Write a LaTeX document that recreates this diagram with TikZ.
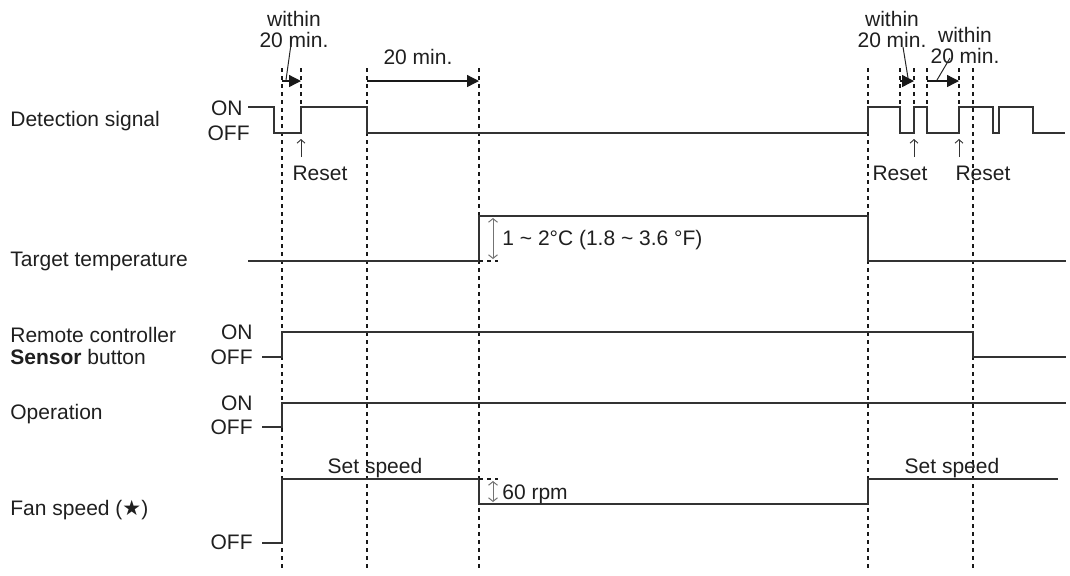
\documentclass[tikz,border=0pt]{standalone}
\usepackage{fontspec}
\setmainfont{Liberation Sans}
\newfontfamily\symbolfont{DejaVu Sans}
\usepackage{tikz}
\usetikzlibrary{arrows.meta, positioning}

\begin{document}
\begin{tikzpicture}[x=0.5pt, y=-0.5pt,
  sig/.style={draw=black!80, line width=0.7pt},
  guide/.style={draw=black!90, line width=1.1pt, dash pattern=on 2pt off 2pt},
  tick/.style={draw=black!90, line width=0.8pt, dash pattern=on 2pt off 2pt},
  span/.style={draw=black!90, line width=0.65pt, -{Triangle[length=6pt,width=6pt]}},
  leader/.style={draw=black!85, line width=0.5pt},
  gauge/.style={draw=black!55, line width=0.5pt, {Straight Barb[length=1.8pt,width=4.5pt]}-{Straight Barb[length=1.8pt,width=4.5pt]}},
  up/.style={draw=black!80, line width=0.45pt, -{Straight Barb[length=1.8pt,width=4pt]}},
  lbl/.style={font=\fontsize{10.5}{10.5}\selectfont, inner sep=0pt, text=black!88, align=center}]
\useasboundingbox (0,0) rectangle (1070,575);

% Guide lines
\foreach \x in {282,367,479,868,973}
  \draw[guide] (\x,68) -- (\x,570);
\foreach \x in {301,900,914,927,959}
  \draw[guide] (\x,68) -- (\x,107);

% Row names
\node[lbl, anchor=base west] (detname) at (10,126.5) {Detection signal};
\node[lbl, anchor=base west] (tgtname) at (10,266) {Target temperature};
\node[lbl, anchor=south west, align=left] (rcname) at (10,365) {Remote controller\\[0.5pt]\textbf{Sensor} button};
\node[lbl, anchor=base west] (opname) at (10,419) {Operation};
\node[lbl, anchor=base west] (fanname) at (10,515) {Fan speed ({\symbolfont ★})};

% ON / OFF levels
\node[lbl, anchor=base east] (deton) at (243,115) {ON};
\node[lbl, anchor=base east] (detoff) at (250,140) {OFF};
\node[lbl, anchor=base east] (rcon) at (253,339) {ON};
\node[lbl, anchor=base east] (rcoff) at (253,364) {OFF};
\node[lbl, anchor=base east] (opon) at (253,410) {ON};
\node[lbl, anchor=base east] (opoff) at (253,434) {OFF};
\node[lbl, anchor=base east] (fanoff) at (253,549) {OFF};

% Detection signal
\draw[sig] (248,107) -| (274,133) -| (301,107) -| (367,133) -| (868,107)
  -| (900,133) -| (914,107) -| (927,133) -| (959,107) -| (993,133)
  -| (999,107) -| (1033,133) -- (1065,133);

% Timing spans
\node[lbl, anchor=south] (within1) at (294,48) {within\\20 min.};
\node[lbl, anchor=base] (wait) at (418,64) {20 min.};
\node[lbl, anchor=south] (within2) at (892,48) {within\\20 min.};
\node[lbl, anchor=south] (within3) at (965,64) {within\\20 min.};
\draw[span] (282,81) -- (301,81);
\draw[span] (367,81) -- (479,81);
\draw[span] (900,81) -- (914,81);
\draw[span] (927,81) -- (959,81);
\draw[leader] (292,37) -- (286,80);
\draw[leader] (903,47) -- (908,78);
\draw[leader] (950,58) -- (937,80);

% Resets
\node[lbl, anchor=base] (reset1) at (320,180) {Reset};
\node[lbl, anchor=base] (reset2) at (900,180) {Reset};
\node[lbl, anchor=base] (reset3) at (983,180) {Reset};
\draw[up] (301,157) -- (301,139);
\draw[up] (914,157) -- (914,139);
\draw[up] (959,157) -- (959,139);

% Target temperature
\draw[sig] (248,261) -| (479,216) -| (868,261) -- (1066,261);
\draw[tick] (479,261) -- (498,261);
\draw[gauge] (493,218) -- (493,259);
\node[lbl, anchor=base west] (tempstep) at (502,245) {1 \textasciitilde{} 2°C (1.8 \textasciitilde{} 3.6 °F)};

% Remote controller Sensor button
\draw[sig] (262,357) -| (282,332) -| (973,357) -- (1066,357);

% Operation
\draw[sig] (262,427) -| (282,403) -- (1066,403);

% Fan speed
\draw[sig] (262,543) -| (282,479) -| (479,504) -| (868,479) -- (1058,479);
\draw[tick] (479,479) -- (498,479);
\draw[gauge] (493,481) -- (493,502);
\node[lbl, anchor=base west] (rpmstep) at (502,499) {60 rpm};
\node[lbl, anchor=base] (setspeed1) at (375,473) {Set speed};
\node[lbl, anchor=base] (setspeed2) at (952,473) {Set speed};
\end{tikzpicture}
\end{document}
